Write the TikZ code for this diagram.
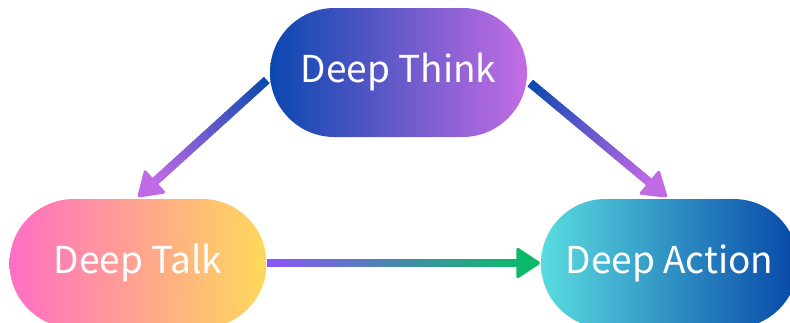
\documentclass[tikz,border=0pt]{standalone}
\usepackage{fontspec}
\newfontfamily\lblfont{Noto Sans CJK KR}
\usetikzlibrary{calc}
\definecolor{thinkL}{HTML}{0A47B0}
\definecolor{thinkR}{HTML}{C46DE4}
\definecolor{talkL}{HTML}{FF6EC4}
\definecolor{talkR}{HTML}{FFD95A}
\definecolor{actL}{HTML}{5ADCE0}
\definecolor{actR}{HTML}{0747A8}
\definecolor{arBlue}{HTML}{0B48B0}
\definecolor{arPurple}{HTML}{C06AE6}
\definecolor{arViolet}{HTML}{8A55F8}
\definecolor{arGreen}{HTML}{0CB96A}
\tikzset{
  pill/.style={rounded corners=64.4pt, minimum width=257pt, minimum height=129pt,
    inner sep=0pt, text=white, font=\lblfont\fontsize{37}{41}\selectfont},
}
\newcommand\gradarrow[5]{%
  \coordinate (#5b) at ($(#2)!25pt!(#1)$);
  \coordinate (#5e) at ($(#2)!22pt!(#1)$);
  \foreach \i in {0,...,59}{%
    \pgfmathsetmacro\ta{max(\i-0.6,0)/60}%
    \pgfmathsetmacro\tb{(\i+1)/60}%
    \pgfmathtruncatemacro\pc{100*\i/59}%
    \draw[line width=8.5pt, line cap=butt, color={#4!\pc!#3}] ($(#1)!\ta!(#5e)$) -- ($(#1)!\tb!(#5e)$);
  }
  \coordinate (#5l) at ($(#5b)!16.5pt!90:(#2)$);
  \coordinate (#5r) at ($(#5b)!16.5pt!-90:(#2)$);
  \fill[#4, rounded corners=3pt] (#5b) -- (#5l) -- (#2) -- (#5r) -- cycle;
}
\begin{document}
\begin{tikzpicture}[x=1pt, y=-1pt]
\useasboundingbox (0,0) rectangle (790,322);
\clip (0,0) rectangle (790,322);
\node[pill, left color=thinkL, right color=thinkR] (think) at (398.5,72.5) {Deep Think};
\node[pill, left color=talkL, right color=talkR] (talk) at (138,263.5) {Deep Talk};
\node[pill, left color=actL, right color=actR] (action) at (669.5,263.5) {Deep Action};
\coordinate (a1s) at ($(think.west)+(-3,7.5)$);
\coordinate (a1e) at ($(talk.north)+(-1,-1)$);
\coordinate (a2s) at ($(think.east)+(3,10.5)$);
\coordinate (a2e) at ($(action.north)+(-1.5,-1)$);
\coordinate (a3s) at ($(talk.east)+(0,-0.5)$);
\coordinate (a3e) at ($(action.west)+(0.5,-0.5)$);
\gradarrow{a1s}{a1e}{arBlue}{arPurple}{x1}
\gradarrow{a2s}{a2e}{arBlue}{arPurple}{x2}
\gradarrow{a3s}{a3e}{arViolet}{arGreen}{x3}
\end{tikzpicture}
\end{document}
